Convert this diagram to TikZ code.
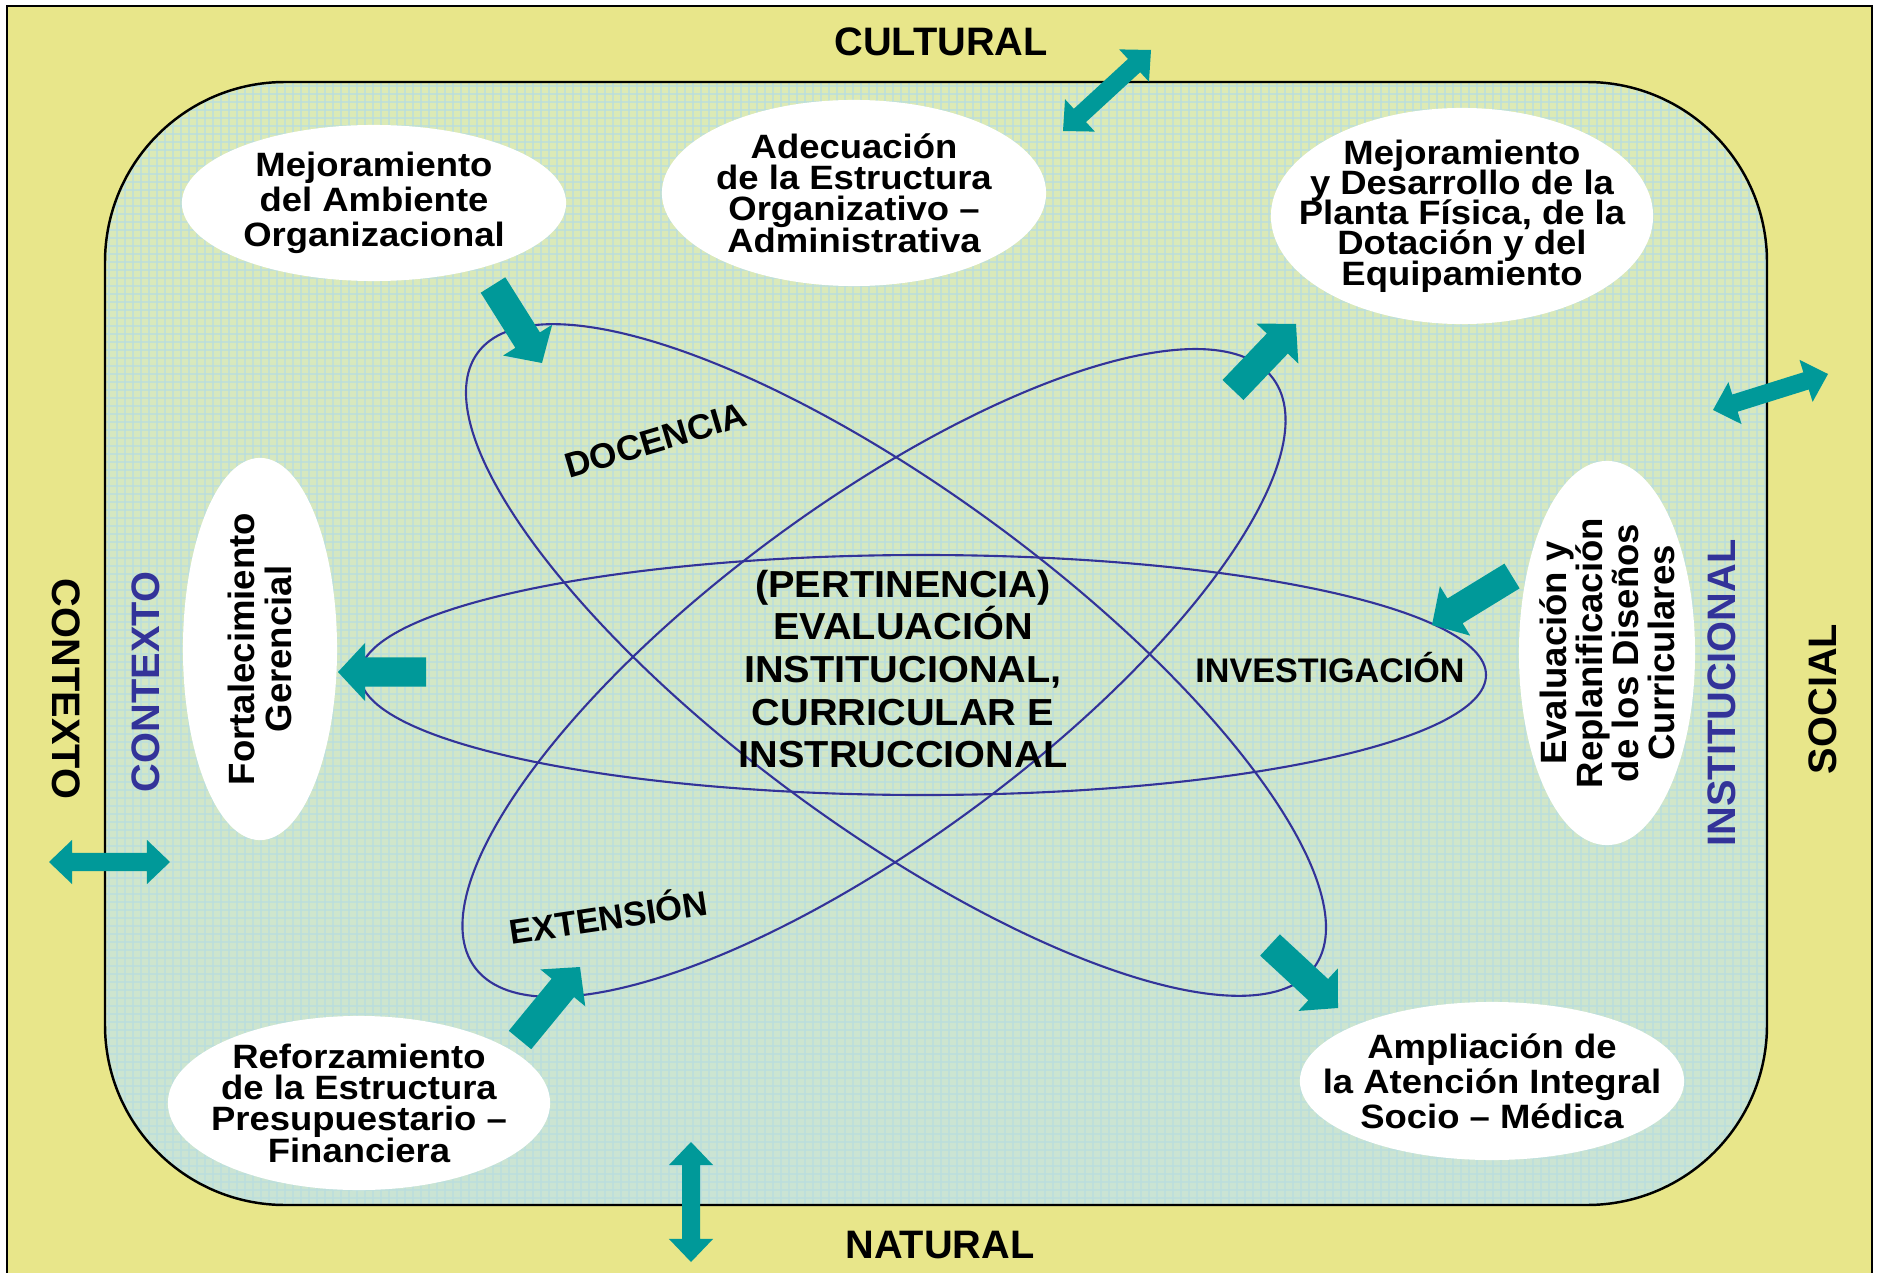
\documentclass[tikz,border=0pt]{standalone}
\usepackage{fontspec}
\setmainfont{Liberation Sans}
\newfontfamily\widesans[FakeStretch=1.055]{Liberation Sans}
\newfontfamily\bubsans[FakeStretch=1.08]{Liberation Sans}
\usetikzlibrary{calc,shapes.geometric}
\setlength{\lineskiplimit}{-20pt}
\definecolor{tealA}{RGB}{0,153,153}
\definecolor{navyA}{RGB}{51,51,153}
\definecolor{khakiA}{RGB}{232,230,138}
\definecolor{paleY}{RGB}{255,255,156}
\definecolor{greenTop}{RGB}{221,234,180}
\definecolor{greenBot}{RGB}{202,228,212}
\definecolor{gridC}{RGB}{186,222,222}

\newcommand{\tealsingle}[5]{%
  \coordinate (tmpB) at ($(#2)!#5!(#1)$);
  \fill[tealA] ($(#1)!#3!90:(#2)$) -- ($(tmpB)!#3!90:(#2)$) -- ($(tmpB)!#4!90:(#2)$) -- (#2)
    -- ($(tmpB)!#4!-90:(#2)$) -- ($(tmpB)!#3!-90:(#2)$) -- ($(#1)!#3!-90:(#2)$) -- cycle;}
\newcommand{\tealdouble}[5]{%
  \coordinate (tmpA) at ($(#1)!#5!(#2)$);
  \coordinate (tmpB) at ($(#2)!#5!(#1)$);
  \fill[tealA] (#1) -- ($(tmpA)!#4!90:(#2)$) -- ($(tmpA)!#3!90:(#2)$) -- ($(tmpB)!#3!90:(#2)$)
    -- ($(tmpB)!#4!90:(#2)$) -- (#2) -- ($(tmpB)!#4!-90:(#2)$) -- ($(tmpB)!#3!-90:(#2)$)
    -- ($(tmpA)!#3!-90:(#2)$) -- ($(tmpA)!#4!-90:(#2)$) -- cycle;}

\tikzset{
  bub/.style={ellipse, fill=white, inner sep=-0.5cm, align=center, text=black},
  hfont/.style={font=\bubsans\bfseries\fontsize{9.6}{#1}\selectfont},
  vfont/.style={font=\bfseries\fontsize{10.4}{#1}\selectfont},
  orbit/.style={draw=navyA, line width=0.6pt},
  lbl/.style={inner sep=0pt, font=\bfseries\fontsize{11.3}{12}\selectfont},
  orbitlbl/.style={inner sep=0pt, font=\bfseries\fontsize{10}{11}\selectfont},
  gridline/.style={draw=gridC, line width=0.3pt, opacity=0.75},
}

\begin{document}
\begin{tikzpicture}[x=0.01cm,y=-0.01cm]
\useasboundingbox (0,0) rectangle (1881,1273);
\clip (0,0) rectangle (1881,1273);
\fill[white] (0,0) rectangle (1881,1273);

% outer frame
\shade[top color=khakiA, middle color=paleY, bottom color=khakiA] (7,6) rectangle (1872,1295);
\draw[black, line width=0.6pt] (7,6) rectangle (1872,1295);

% inner rounded area
\shade[top color=greenTop, bottom color=greenBot, rounded corners=1.8cm] (105,82) rectangle (1767,1205);
\begin{scope}
  \clip[rounded corners=1.8cm] (105,82) rectangle (1767,1205);
  \foreach \gx in {109,117,...,1767} \draw[gridline] (\gx,82) -- (\gx,1205);
  \foreach \gy in {86,94,...,1205} \draw[gridline] (105,\gy) -- (1767,\gy);
\end{scope}
\draw[black, line width=0.7pt, rounded corners=1.8cm] (105,82) rectangle (1767,1205);

% orbit ellipses
\draw[orbit] (923,675) ellipse [x radius=563, y radius=120];
\draw[orbit, rotate around={-36.3:(896,660)}] (896,660) ellipse [x radius=519, y radius=168];
\draw[orbit, rotate around={36.4:(874,673)}] (874,673) ellipse [x radius=496, y radius=168];

% white ellipses
\node[bub, hfont=10, minimum width=3.84cm, minimum height=1.56cm] (amb) at (374,203)
  {Mejoramiento\\del Ambiente\\Organizacional};
\node[bub, hfont=8.9, minimum width=3.84cm, minimum height=1.86cm] (adec) at (854,193)
  {Adecuación\\de la Estructura\\Organizativo –\\Administrativa};
\node[bub, hfont=8.6, minimum width=3.82cm, minimum height=2.16cm] (planta) at (1462,216)
  {Mejoramiento\\y Desarrollo de la\\Planta Física, de la\\Dotación y del\\Equipamiento};
\node[bub, vfont=10.4, rotate=90, minimum width=3.82cm, minimum height=1.54cm] (fort) at (260,649)
  {Fortalecimiento\\Gerencial};
\node[bub, vfont=10.2, rotate=90, minimum width=3.84cm, minimum height=1.76cm] (eval) at (1607,653)
  {Evaluación y\\Replanificación\\de los Diseños\\Curriculares};
\node[bub, hfont=8.9, minimum width=3.82cm, minimum height=1.74cm] (refo) at (359,1103)
  {Reforzamiento\\de la Estructura\\Presupuestario –\\Financiera};
\node[bub, hfont=10, minimum width=3.84cm, minimum height=1.58cm] (ampl) at (1492,1081)
  {Ampliación de\\la Atención Integral\\Socio – Médica};

% centre text
\node[inner sep=0pt, align=center, font=\widesans\bfseries\fontsize{10.7}{12.1}\selectfont] (centro) at (903,669)
  {(PERTINENCIA)\\EVALUACIÓN\\INSTITUCIONAL,\\CURRICULAR E\\INSTRUCCIONAL};

% orbit labels
\node[orbitlbl, rotate=16.5] (ldoc) at (656,440) {DOCENCIA};
\node[orbitlbl, rotate=8.5, font=\bfseries\fontsize{9.8}{11}\selectfont] (lext) at (608,915) {EXTENSIÓN};
\node[orbitlbl, font=\bfseries\fontsize{9.7}{11}\selectfont] (linv) at (1330,668) {INVESTIGACIÓN};

% context labels
\node[lbl] (lcult) at (941,42) {CULTURAL};
\node[lbl] (lnat) at (940,1245) {NATURAL};
\node[lbl, rotate=-90] (lctx1) at (66,689) {CONTEXTO};
\node[lbl, rotate=90, text=navyA] (lctx2) at (146,682) {CONTEXTO};
\node[lbl, rotate=90, text=navyA] (linst) at (1722,693) {INSTITUCIONAL};
\node[lbl, rotate=90] (lsoc) at (1823,699) {SOCIAL};

% arrow end points
\coordinate (a1s) at (493,285);  \coordinate (a1e) at (542,363);
\coordinate (a2s) at (1233,390); \coordinate (a2e) at (1296,324);
\coordinate (a3s) at (1512,576); \coordinate (a3e) at (1432,625);
\coordinate (a4s) at (426,672);  \coordinate (a4e) at (338,672);
\coordinate (a5s) at (1270,945); \coordinate (a5e) at (1338,1008);
\coordinate (a6s) at (520,1040); \coordinate (a6e) at (580,967);
\coordinate (d1s) at (1063,131); \coordinate (d1e) at (1151,50);
\coordinate (d2s) at (1713,410); \coordinate (d2e) at (1828,374);
\coordinate (d3s) at (49,862);   \coordinate (d3e) at (170,862);
\coordinate (d4s) at (691,1142); \coordinate (d4e) at (691,1262);

\tealsingle{a1s}{a1e}{0.145cm}{0.29cm}{0.27cm}
\tealsingle{a2s}{a2e}{0.145cm}{0.29cm}{0.27cm}
\tealsingle{a3s}{a3e}{0.145cm}{0.29cm}{0.27cm}
\tealsingle{a4s}{a4e}{0.145cm}{0.29cm}{0.27cm}
\tealsingle{a5s}{a5e}{0.145cm}{0.29cm}{0.27cm}
\tealsingle{a6s}{a6e}{0.145cm}{0.29cm}{0.27cm}
\tealdouble{d1s}{d1e}{0.09cm}{0.22cm}{0.23cm}
\tealdouble{d2s}{d2e}{0.09cm}{0.22cm}{0.23cm}
\tealdouble{d3s}{d3e}{0.09cm}{0.22cm}{0.23cm}
\tealdouble{d4s}{d4e}{0.09cm}{0.22cm}{0.23cm}
\end{tikzpicture}
\end{document}
